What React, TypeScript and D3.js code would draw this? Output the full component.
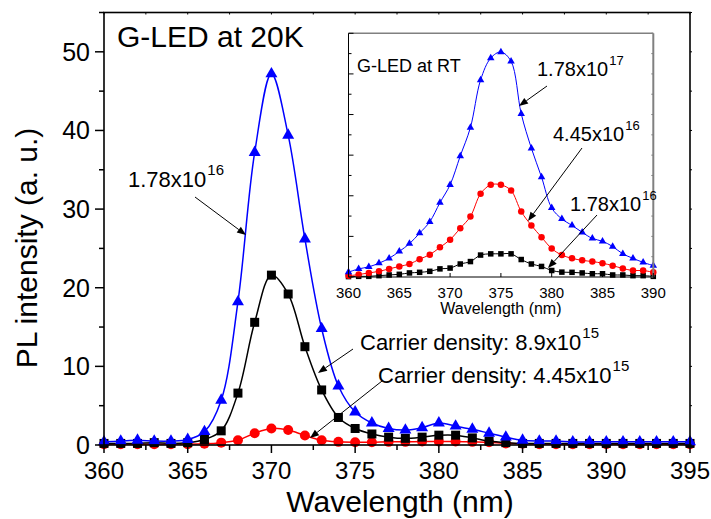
import React from 'react';
import * as d3 from 'd3';

// main panel (20 K)
const wl20K = [360, 361, 362, 363, 364, 365, 366, 367, 368, 369, 370, 371, 372, 373, 374, 375, 376, 377,
    378, 379, 380, 381, 382, 383, 384, 385, 386, 387, 388, 389, 390, 391, 392, 393, 394, 395];
const blue20K = [0.4, 0.5, 0.6, 0.5, 0.5, 0.7, 1.7, 5.7, 18.2, 37.2, 47.2, 39.4, 26.2, 14.8, 7.5, 4.2, 2.8, 2.1,
    1.9, 2.2, 2.8, 2.4, 2.0, 1.5, 1.0, 0.6, 0.5, 0.5, 0.4, 0.4, 0.4, 0.4, 0.4, 0.4, 0.4, 0.4];
const black20K = [0.2, 0.2, 0.2, 0.3, 0.2, 0.3, 0.7, 1.8, 6.6, 15.6, 21.6, 19.2, 12.5, 7.0, 3.5, 2.1, 1.4, 1.0,
    0.85, 1.0, 1.25, 1.25, 0.9, 0.5, 0.3, 0.2, 0.2, 0.2, 0.2, 0.2, 0.2, 0.2, 0.2, 0.2, 0.2, 0.2];
const red20K = [0.1, 0.1, 0.1, 0.1, 0.1, 0.1, 0.15, 0.3, 0.6, 1.5, 2.1, 1.9, 1.2, 0.6, 0.4, 0.35, 0.35, 0.4,
    0.4, 0.45, 0.45, 0.45, 0.4, 0.35, 0.2, 0.15, 0.1, 0.1, 0.1, 0.1, 0.1, 0.1, 0.1, 0.1, 0.1, 0.1];
const xTicks20K = [360, 365, 370, 375, 380, 385, 390, 395];
const yTicks20K = [0, 10, 20, 30, 40, 50];

// inset (room temperature)
const wlRT = [360, 361, 362, 363, 364, 365, 366, 367, 368, 369, 370, 371, 372, 373, 374, 375,
    376, 377, 378, 379, 380, 381, 382, 383, 384, 385, 386, 387, 388, 389, 390];
const blueRT = [1.2, 2.0, 2.5, 3.4, 4.6, 6.3, 8.2, 10.8, 13.6, 18.3, 22.7, 29.8, 36.8, 48.5, 53.9, 55.4,
    53.1, 40.2, 31.7, 24.6, 17.0, 14.3, 12.7, 11.0, 9.5, 8.8, 7.5, 5.7, 4.6, 3.6, 2.8];
const redRT = [0.3, 0.6, 1.0, 1.4, 2.0, 2.6, 3.2, 4.4, 5.5, 7.3, 9.2, 12.0, 14.9, 20.5, 22.7, 22.7,
    21.3, 16.1, 12.7, 9.8, 7.0, 5.4, 4.6, 4.1, 3.8, 3.4, 2.8, 2.1, 1.6, 1.6, 1.15];
const blackRT = [0.1, 0.16, 0.16, 0.33, 0.5, 0.66, 1.0, 1.15, 1.4, 2.0, 2.2, 3.2, 3.8, 5.4, 5.7, 5.7,
    5.7, 4.3, 3.2, 2.6, 1.6, 1.2, 1.15, 1.0, 0.8, 0.8, 0.5, 0.5, 0.33, 0.33, 0.16];
const xTicksRT = [360, 365, 370, 375, 380, 385, 390];

const FONT = 'Arial, "Liberation Sans", Helvetica, sans-serif';
const BLUE = '#0000ff';
const RED = '#ff0000';

function Arrow({x1, y1, x2, y2, head = 9, half = 3.5})
{
    const a = Math.atan2(y2 - y1, x2 - x1);
    const bx = x2 - head * Math.cos(a);
    const by = y2 - head * Math.sin(a);
    const px = -Math.sin(a) * half;
    const py = Math.cos(a) * half;
    return (
        <g>
            <line x1={x1} y1={y1} x2={bx} y2={by} stroke="#000" strokeWidth={1}/>
            <path d={`M${x2},${y2}L${bx + px},${by + py}L${bx - px},${by - py}Z`} fill="#000"/>
        </g>
    );
}

function Series({xs, ys, x, y, color, marker, size, width})
{
    const pts = xs.map((d, i) => [x(d), y(ys[i])]);
    const line = d3.line().curve(d3.curveCatmullRom.alpha(0.5))(pts);
    let marks;
    if (marker === 'square')
    {
        marks = pts.map((p, i) => <rect key={i} x={p[0] - size / 2} y={p[1] - size / 2} width={size} height={size} fill={color}/>);
    }
    else if (marker === 'circle')
    {
        marks = pts.map((p, i) => <circle key={i} cx={p[0]} cy={p[1]} r={size / 2} fill={color}/>);
    }
    else
    {
        const tri = d3.symbol(d3.symbolTriangle, Math.sqrt(3) / 4 * size * size)();
        marks = pts.map((p, i) => <path key={i} d={tri} transform={`translate(${p[0]},${p[1]})`} fill={color}/>);
    }
    return (
        <g>
            <path d={line} fill="none" stroke={color} strokeWidth={width}/>
            {marks}
        </g>
    );
}

export default function App()
{
    // main scales
    const x = d3.scaleLinear().domain([360, 395]).range([104, 690]);
    const y = d3.scaleLinear().domain([0, 55]).range([445, 12.5]);
    // inset scales
    const xi = d3.scaleLinear().domain([360, 390]).range([348.5, 653.3]);
    const yi = d3.scaleLinear().domain([0, 60]).range([277, 33.3]);

    const minorX = d3.range(360, 395.1, 2.5);
    const minorY = d3.range(0, 55.1, 5);
    const minorYi = d3.range(0, 60.1, 5);

    return (
        <svg width={711} height={519} style={{position: 'absolute', left: 0, top: 0, background: '#fff'}} fontFamily={FONT}>
            <rect x={0} y={0} width={711} height={519} fill="#fff"/>

            {/* main series */}
            <Series xs={wl20K} ys={red20K} x={x} y={y} color={RED} marker="circle" size={10} width={1.5}/>
            <Series xs={wl20K} ys={black20K} x={x} y={y} color="#000" marker="square" size={9} width={1.5}/>
            <Series xs={wl20K} ys={blue20K} x={x} y={y} color={BLUE} marker="triangle" size={12} width={1.5}/>

            {/* inset */}
            <g>
                <rect x={xi(360)} y={yi(60)} width={xi(390) - xi(360)} height={yi(0) - yi(60)} fill="#fff"/>
                <Series xs={wlRT} ys={blackRT} x={xi} y={yi} color="#000" marker="square" size={5.5} width={1}/>
                <Series xs={wlRT} ys={redRT} x={xi} y={yi} color={RED} marker="circle" size={6.5} width={1}/>
                <Series xs={wlRT} ys={blueRT} x={xi} y={yi} color={BLUE} marker="triangle" size={7.5} width={1}/>
                <line x1={xi(360)} x2={xi(390)} y1={yi(60)} y2={yi(60)} stroke="#808080" strokeWidth={1.5}/>
                <line x1={xi(390)} x2={xi(390)} y1={yi(60)} y2={yi(0)} stroke="#808080" strokeWidth={2}/>
                <line x1={xi(360)} x2={xi(390)} y1={yi(0)} y2={yi(0)} stroke="#000" strokeWidth={1}/>
                <line x1={xi(360)} x2={xi(360)} y1={yi(60)} y2={yi(0)} stroke="#000" strokeWidth={1}/>
                {minorYi.map(v => (
                    <g key={v}>
                        <line x1={xi(360)} x2={xi(360) + (v % 10 === 0 ? 5 : 3)} y1={yi(v)} y2={yi(v)} stroke="#000" strokeWidth={1}/>
                        <line x1={xi(390)} x2={xi(390) - 2} y1={yi(v)} y2={yi(v)} stroke="#808080" strokeWidth={1}/>
                    </g>
                ))}
                {xTicksRT.map(v => (
                    <g key={v}>
                        <line x1={xi(v)} x2={xi(v)} y1={yi(0)} y2={yi(0) - 4} stroke="#000" strokeWidth={1}/>
                        <text x={xi(v)} y={298} fontSize={15} textAnchor="middle">{v}</text>
                    </g>
                ))}
                <text x={(xi(360) + xi(390)) / 2} y={314} fontSize={16} textAnchor="middle">Wavelength (nm)</text>
                <text x={357} y={72} fontSize={18}>G-LED at RT</text>

                <text x={537} y={76} fontSize={20}>1.78x10<tspan dx={1} dy={-11} fontSize={13}>17</tspan></text>
                <Arrow x1={547} y1={86} x2={519} y2={106}/>
                <text x={553} y={141} fontSize={20}>4.45x10<tspan dx={1} dy={-11} fontSize={13}>16</tspan></text>
                <Arrow x1={582} y1={148} x2={528} y2={221}/>
                <text x={570} y={211} fontSize={20}>1.78x10<tspan dx={1} dy={-11} fontSize={13}>16</tspan></text>
                <Arrow x1={597} y1={215} x2={548} y2={268}/>
            </g>

            {/* main frame & axes */}
            <rect x={x(360)} y={y(55)} width={x(395) - x(360)} height={y(0) - y(55)} fill="none" stroke="#000" strokeWidth={1.6}/>
            {minorX.map(v => (
                <g key={v}>
                    <line x1={x(v)} x2={x(v)} y1={y(0)} y2={y(0) + (v % 5 === 0 ? 8 : 5)} stroke="#000" strokeWidth={1.5}/>
                    <line x1={x(v)} x2={x(v)} y1={y(55)} y2={y(55) + 2} stroke="#000" strokeWidth={1}/>
                </g>
            ))}
            {minorY.map(v => (
                <g key={v}>
                    <line x1={x(360)} x2={x(360) - (v % 10 === 0 ? 9 : 5)} y1={y(v)} y2={y(v)} stroke="#000" strokeWidth={1.5}/>
                    <line x1={x(395)} x2={x(395) + 2} y1={y(v)} y2={y(v)} stroke="#000" strokeWidth={1}/>
                </g>
            ))}
            {xTicks20K.map(v => (
                <text key={v} x={x(v)} y={479} fontSize={24} textAnchor="middle">{v}</text>
            ))}
            {yTicks20K.map(v => (
                <text key={v} x={90} y={y(v) + 9} fontSize={25} textAnchor="end">{v}</text>
            ))}
            <text x={400} y={512} fontSize={30} textAnchor="middle">Wavelength (nm)</text>
            <text transform="translate(37,248) rotate(-90)" fontSize={30} textAnchor="middle">PL intensity (a. u.)</text>

            {/* annotations */}
            <text x={117} y={47} fontSize={30}>G-LED at 20K</text>
            <text x={128} y={187} fontSize={22}>1.78x10<tspan dx={1} dy={-12} fontSize={15}>16</tspan></text>
            <Arrow x1={195} y1={197} x2={246} y2={235}/>
            <text x={360} y={350} fontSize={22}>Carrier density: 8.9x10<tspan dx={1} dy={-12} fontSize={15}>15</tspan></text>
            <Arrow x1={353} y1={349} x2={318} y2={373}/>
            <text x={378} y={383} fontSize={22}>Carrier density: 4.45x10<tspan dx={1} dy={-12} fontSize={15}>15</tspan></text>
            <Arrow x1={382} y1={381} x2={310} y2={438}/>
        </svg>
    );
}
